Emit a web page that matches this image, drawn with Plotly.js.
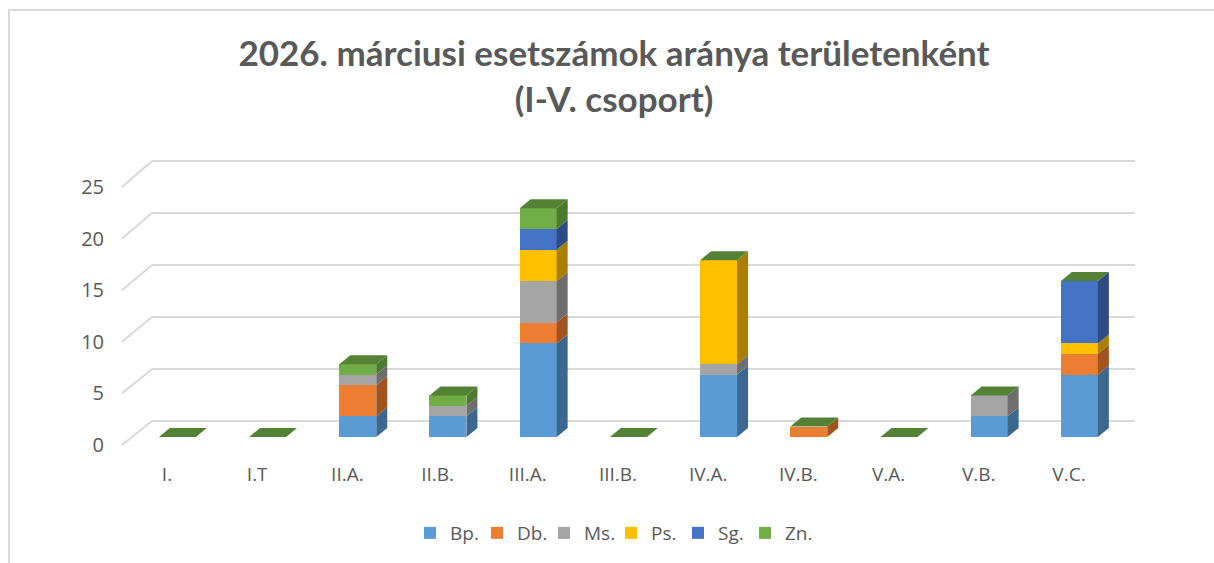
<!DOCTYPE html>
<html>
<head>
<meta charset="utf-8">
<script src="https://cdn.plot.ly/plotly-3.0.1.min.js"></script>
<style>html,body{margin:0;padding:0;background:#fff;}#chart{width:1214px;height:563px;}</style>
</head>
<body>
<div id="chart"></div>
<script>
// ---- data ----
const categories = ['I.', 'I.T', 'II.A.', 'II.B.', 'III.A.', 'III.B.', 'IV.A.', 'IV.B.', 'V.A.', 'V.B.', 'V.C.'];
const seriesNames = ['Bp.', 'Db.', 'Ms.', 'Ps.', 'Sg.', 'Zn.'];
const bp = [0, 0, 2, 2, 9, 0, 6, 0, 0, 2, 6];
const db = [0, 0, 3, 0, 2, 0, 0, 1, 0, 0, 2];
const ms = [0, 0, 1, 1, 4, 0, 1, 0, 0, 2, 0];
const ps = [0, 0, 0, 0, 3, 0, 10, 0, 0, 0, 1];
const sg = [0, 0, 0, 0, 2, 0, 0, 0, 0, 0, 6];
const zn = [0, 0, 1, 1, 2, 0, 0, 0, 0, 0, 0];
const yTicks = [0, 5, 10, 15, 20, 25];
const titleText = '2026. márciusi esetszámok aránya területenként<br>(I-V. csoport)';

// ---- styles ----
const W = 1214, H = 563;
const px = x => x / W;
const py = y => 1 - y / H;
const FONT = 'Lato, "Open Sans", sans-serif';
const FONT2 = '"Open Sans", Lato, sans-serif';
const TXT = '#595959';
const GRID = '#D9D9D9';
const frontColors = ['#5B9BD5', '#ED7D31', '#A5A5A5', '#FFC000', '#4472C4', '#70AD47'];
const sideColors = ['#3C6890', '#A3541E', '#6E6E6E', '#A87F00', '#2D4A82', '#4C7A2F'];
const topColor = '#548235';
const allSeries = [bp, db, ms, ps, sg, zn];

const BAR_W = 0.41, BAR_OFF = -0.09;
const DX = 11 / 90.2, DY = 9 / 10.4;
const idx = categories.map((c, i) => i);

const traces = allSeries.map((vals, s) => ({
  type: 'bar', name: seriesNames[s], x: idx, y: vals,
  width: BAR_W, offset: BAR_OFF,
  marker: {color: frontColors[s], line: {width: 0}},
  xaxis: 'x', yaxis: 'y', hoverinfo: 'skip'
}));
// dummy trace so the tick-label axis is drawn
traces.push({type: 'scatter', x: [], y: [], xaxis: 'x2', yaxis: 'y2', showlegend: false, hoverinfo: 'skip'});

const shapes = [];
// chart border
shapes.push({type: 'rect', xref: 'paper', yref: 'paper', x0: px(9), x1: px(1230), y0: py(10), y1: py(600),
  line: {color: GRID, width: 2}, fillcolor: 'rgba(0,0,0,0)', layer: 'below'});
// back-wall gridlines and their diagonal floor/side-wall joins
yTicks.forEach(v => {
  const yBack = 421 - 10.4 * v, yFront = 445 - 10.32 * v;
  shapes.push({type: 'line', xref: 'paper', yref: 'paper',
    x0: px(122), y0: py(yFront), x1: px(152), y1: py(yBack),
    line: {color: GRID, width: 2}, layer: 'below'});
  shapes.push({type: 'line', xref: 'paper', yref: 'paper',
    x0: px(152), y0: py(yBack), x1: px(1135), y1: py(yBack),
    line: {color: GRID, width: 2}, layer: 'below'});
});
// 3D faces of bars
idx.forEach(i => {
  const xL = i + BAR_OFF, xR = i + BAR_OFF + BAR_W;
  let base = 0;
  allSeries.forEach((vals, s) => {
    const v = vals[i];
    if (v > 0) {
      const y0 = base, y1 = base + v;
      shapes.push({type: 'path', xref: 'x', yref: 'y',
        path: `M${xR},${y0} L${xR + DX},${y0 + DY} L${xR + DX},${y1 + DY} L${xR},${y1} Z`,
        fillcolor: sideColors[s], line: {width: 0}});
    }
    base += v;
  });
  shapes.push({type: 'path', xref: 'x', yref: 'y',
    path: `M${xL},${base} L${xR},${base} L${xR + DX},${base + DY} L${xL + DX},${base + DY} Z`,
    fillcolor: topColor, line: {width: 0}});
});

const layout = {
  width: W, height: H,
  margin: {l: 0, r: 0, t: 0, b: 0},
  paper_bgcolor: '#FFFFFF', plot_bgcolor: 'rgba(0,0,0,0)',
  font: {family: FONT, color: TXT},
  barmode: 'stack',
  hovermode: false,
  title: {text: titleText, x: px(614), xanchor: 'center', y: py(66), yanchor: 'top',
    font: {family: FONT, size: 35, color: TXT, weight: 'bold'}},
  xaxis: {domain: [px(121.9), px(1114.1)], range: [-0.5, 10.5], anchor: 'y',
    tickvals: idx, ticktext: categories, ticks: '', showgrid: false, zeroline: false, showline: false,
    tickfont: {size: 19, color: TXT, family: FONT2}, ticklabelstandoff: 24, fixedrange: true},
  yaxis: {domain: [py(437), py(150)], range: [0, (437 - 150) / 10.4], anchor: 'x',
    showgrid: false, zeroline: false, showticklabels: false, showline: false, ticks: '', fixedrange: true},
  xaxis2: {domain: [px(152), px(1135)], range: [0, 1], anchor: 'y2', visible: false, fixedrange: true},
  yaxis2: {domain: [py(445), py(187)], range: [0, 25], anchor: 'free', position: px(104), side: 'left',
    tickvals: yTicks, showgrid: false, zeroline: false, showline: false, ticks: '',
    tickfont: {size: 20, color: TXT, family: FONT2}, fixedrange: true},
  showlegend: true,
  legend: {orientation: 'h', x: px(611), xanchor: 'center', y: py(533), yanchor: 'middle',
    traceorder: 'normal', font: {size: 19, color: TXT, family: FONT2}, itemwidth: 30,
    entrywidth: 22, entrywidthmode: 'pixels'},
  shapes: shapes
};

Plotly.newPlot('chart', traces, layout, {displayModeBar: false, staticPlot: true});
</script>
</body>
</html>
